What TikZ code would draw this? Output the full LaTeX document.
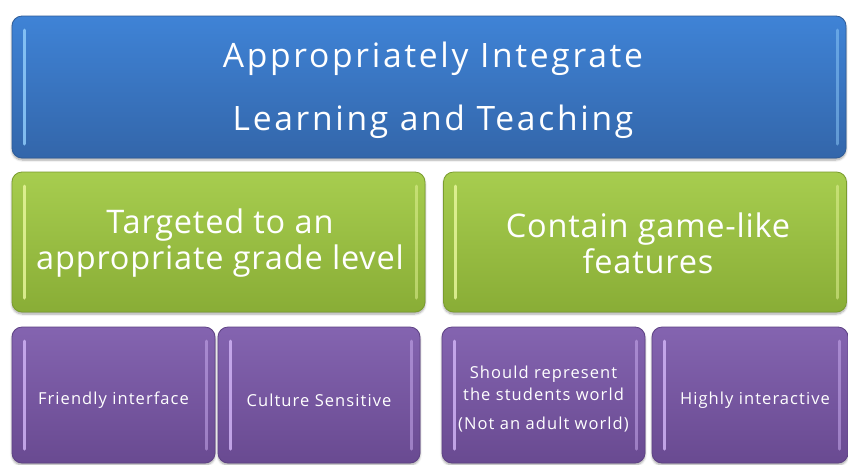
\documentclass[tikz,border=0pt]{standalone}
\usepackage{fontspec}
\setmainfont{Open Sans}
\newfontfamily\titlefont[LetterSpace=8]{Open Sans}
\newfontfamily\greenfont[LetterSpace=2.5]{Open Sans}
\newfontfamily\purfont[LetterSpace=6.5]{Open Sans}
\usetikzlibrary{shadows.blur}
\definecolor{blueT}{HTML}{3F83D6}
\definecolor{blueB}{HTML}{3366AA}
\definecolor{blueE}{HTML}{2E5C98}
\definecolor{blueH}{HTML}{8FCBFA}
\definecolor{greenT}{HTML}{A7CD4F}
\definecolor{greenB}{HTML}{89AD36}
\definecolor{greenE}{HTML}{7A9C2E}
\definecolor{greenH}{HTML}{E6F59A}
\definecolor{purT}{HTML}{8464B0}
\definecolor{purB}{HTML}{694A91}
\definecolor{purE}{HTML}{5E4284}
\definecolor{purH}{HTML}{CFB2F4}
\tikzset{
  x=1pt,y=-1pt,
  glossbox/.style n args={4}{
    rectangle, rounded corners=10pt, draw=#3, line width=0.8pt,
    top color=#1, bottom color=#2, inner sep=0pt,
    blur shadow={shadow xshift=0pt,shadow yshift=-2pt,shadow blur steps=6,shadow opacity=35},
    path picture={
      \draw[#4, line width=3pt, line cap=round, opacity=0.85]
        ([xshift=12pt,yshift=-14pt]path picture bounding box.north west) --
        ([xshift=12pt,yshift=14pt]path picture bounding box.south west);
      \draw[#4, line width=3pt, line cap=round, opacity=0.5]
        ([xshift=-9pt,yshift=-14pt]path picture bounding box.north east) --
        ([xshift=-9pt,yshift=14pt]path picture bounding box.south east);
    }},
  bluebox/.style={glossbox={blueT}{blueB}{blueE}{blueH}},
  greenbox/.style={glossbox={greenT}{greenB}{greenE}{greenH}},
  purbox/.style={glossbox={purT}{purB}{purE}{purH}},
  boxtext/.style={text=white, align=center, inner sep=0pt},
  titletext/.style={boxtext, font=\titlefont\fontsize{33.6}{63}\selectfont},
  greentext/.style={boxtext, font=\greenfont\fontsize{32.5}{36}\selectfont},
  purtext/.style={boxtext, font=\purfont\fontsize{16.5}{22}\selectfont}
}
\begin{document}
\begin{tikzpicture}
\useasboundingbox (0,0) rectangle (848,464);
\node[bluebox, minimum width=834pt, minimum height=142pt] (top) at (429,87) {};
\node[greenbox, minimum width=413pt, minimum height=140pt] (gl) at (218.5,242) {};
\node[greenbox, minimum width=403pt, minimum height=140pt] (gr) at (645,242) {};
\node[purbox, minimum width=203pt, minimum height=136pt] (p1) at (113.5,395) {};
\node[purbox, minimum width=202pt, minimum height=136pt] (p2) at (319,395) {};
\node[purbox, minimum width=203pt, minimum height=136pt] (p3) at (543.5,395) {};
\node[purbox, minimum width=196pt, minimum height=136pt] (p4) at (750,395) {};
\node[titletext] (ttop) at ([xshift=4pt,yshift=-3pt]top.center)
  {Appropriately Integrate\\Learning and Teaching};
\node[greentext] (tgl) at ([xshift=1.5pt,yshift=-1.5pt]gl.center)
  {Targeted to an\\appropriate grade level};
\node[greentext] (tgr) at ([xshift=3pt,yshift=-1.5pt]gr.center)
  {Contain game-like\\features};
\node[purtext] (tp1) at ([yshift=-5pt]p1.center) {Friendly interface};
\node[purtext] (tp2) at ([yshift=-5pt]p2.center) {Culture Sensitive};
\node[purtext] (tp3) at ([yshift=-4pt]p3.center)
  {Should represent\\the students world\\[7pt](Not an adult world)};
\node[purtext] (tp4) at ([xshift=5pt,yshift=-5pt]p4.center) {Highly interactive};
\end{tikzpicture}
\end{document}
